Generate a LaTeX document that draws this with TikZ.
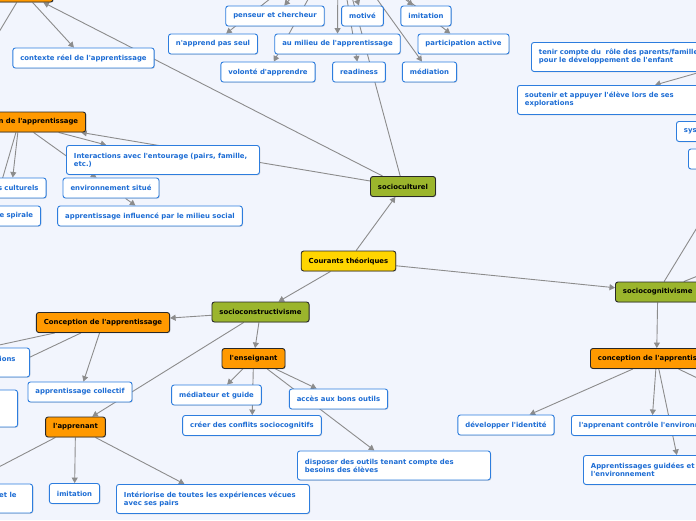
\documentclass[tikz,border=0pt]{standalone}
\usepackage{fontspec}
\newfontfamily\mmfont{DejaVu Sans}
\usetikzlibrary{arrows.meta,shadows,calc}
\pgfdeclarelayer{bgzero}
\pgfdeclarelayer{edges}
\pgfsetlayers{bgzero,edges,main}
\definecolor{pagebg}{RGB}{242,245,253}
\definecolor{bluebd}{RGB}{45,125,222}
\definecolor{bluetx}{RGB}{28,108,212}
\definecolor{darkbd}{RGB}{40,40,40}
\definecolor{orangef}{RGB}{255,153,0}
\definecolor{greenf}{RGB}{155,181,44}
\definecolor{yellowf}{RGB}{255,213,0}
\definecolor{edgec}{RGB}{140,140,140}
\tikzset{
  box/.style={rounded corners=2.5pt, line width=0.9pt, minimum height=20pt,
    inner xsep=7.5pt, inner ysep=2pt,
    font=\mmfont\bfseries\fontsize{6.9}{8}\selectfont,
    drop shadow={shadow xshift=0.8pt, shadow yshift=-0.8pt, opacity=0.25}},
  bbox/.style={box, draw=bluebd, fill=white, text=bluetx},
  obox/.style={box, draw=darkbd, fill=orangef, text=black},
  gbox/.style={box, draw=darkbd, fill=greenf, text=black},
  ybox/.style={box, draw=darkbd, fill=yellowf, text=black},
  twoline/.style={text width=#1, align=left, minimum height=29pt},
  conn/.style={draw=edgec, line width=0.9pt, -{Triangle[length=5.5pt,width=6pt]}},
  connplain/.style={draw=edgec, line width=0.9pt},
}
\begin{document}
\begin{tikzpicture}[x=1pt,y=-1pt]
\useasboundingbox (0,0) rectangle (696,520);
\clip (0,0) rectangle (696,520);
\begin{pgfonlayer}{bgzero}
\fill[pagebg] (0,0) rectangle (696,520);
\end{pgfonlayer}

% ---- top cluster
\coordinate (P) at (338,-55);
\node[bbox] (pens) at (275,16) {penseur et chercheur};
\node[bbox] (motiv) at (362.5,16) {motivé};
\node[bbox] (imitT) at (426,16) {imitation};
\node[bbox] (napp) at (213,44) {n'apprend pas seul};
\node[bbox] (milieu) at (337.5,44) {au milieu de l'apprentissage};
\node[bbox] (partic) at (463.5,44) {participation active};
\node[bbox] (volon) at (268,72) {volonté d'apprendre};
\node[bbox] (readi) at (359,72) {readiness};
\node[bbox] (media) at (429.5,72) {médiation};

% ---- top left
\node[obox, minimum width=60pt] (A) at (23,-8) {};
\coordinate (offL1) at (-10,47);
\node[bbox] (ctx) at (83.5,58) {contexte réel de l'apprentissage};
\node[obox] (C1) at (19,122) {Conception de l'apprentissage};
\node[bbox, twoline=178pt, anchor=north west] (inter) at (66,145) {Interactions avec l'entourage (pairs, famille,\\etc.)};
\node[bbox, text width=54pt, align=right, anchor=east] (scult) at (46.5,188) {s culturels};
\node[bbox, text width=83pt, align=right, anchor=east] (espir) at (41,216) {e spirale};
\node[bbox] (envs) at (111,188) {environnement situé};
\node[bbox] (appinf) at (150,216) {apprentissage influencé par le milieu social};

% ---- centre
\node[gbox] (soccult) at (403,186.5) {socioculturel};
\node[ybox] (cour) at (348.5,261) {Courants théoriques};
\node[gbox] (sconst) at (260.5,312) {socioconstructivisme};

% ---- top right
\node[bbox, twoline=178pt, anchor=north west] (tenir) at (531,42) {tenir compte du~ rôle des parents/famille\\pour le développement de l'enfant};
\node[bbox, twoline=178pt, anchor=north west] (sout) at (517,85) {soutenir et appuyer l'élève lors de ses\\explorations};
\node[bbox, text width=50pt, align=left, anchor=west] (sys) at (676,131.5) {sys};
\node[bbox, minimum width=50pt, anchor=west] (bxr) at (688,159) {};
\coordinate (R1) at (743,60);
\coordinate (soutT) at ($(sout.north west)+(138,0)$);

% ---- bottom left
\node[obox] (C2) at (103,322.5) {Conception de l'apprentissage};
\node[bbox, text width=90pt, align=right, anchor=east, minimum height=29pt] (ions) at (30,362.5) {ions\rule{6.5pt}{0pt}\\\mbox{}};
\node[bbox, minimum width=90pt, minimum height=37pt, anchor=east] (bx26) at (18,408.5) {};
\node[bbox] (collec) at (80,392) {apprentissage collectif};
\node[obox] (appr) at (75.5,427) {l'apprenant};
\node[bbox, text width=90pt, align=right, anchor=east, minimum height=29pt] (etle) at (33,498.5) {et le\rule{8.5pt}{0pt}\\\mbox{}};
\node[bbox] (imitB) at (74.5,493.5) {imitation};
\node[bbox, twoline=178pt, anchor=north west] (interi) at (116,484) {Intériorise de toutes les expériences vécues\\avec ses pairs};
\coordinate (offC2a) at (-40,353.5);
\coordinate (offC2b) at (-50,395);
\coordinate (offAp) at (-30,482);

% ---- bottom middle
\node[obox] (ens) at (253.5,358.5) {l'enseignant};
\node[bbox] (mediat) at (216.5,395) {médiateur et guide};
\node[bbox] (acces) at (338.5,399) {accès aux bons outils};
\node[bbox] (creer) at (252,425.5) {créer des conflits sociocognitifs};
\node[bbox, twoline=178pt, anchor=north west] (dispo) at (297,450.5) {disposer des outils tenant compte des\\besoins des élèves};

% ---- bottom right
\node[gbox, anchor=west] (scog) at (615,292) {sociocognitivisme};
\node[obox, anchor=west] (C3) at (590,358.5) {conception de l'apprentissage};
\node[bbox] (devid) at (506,425) {développer l'identité};
\node[bbox, anchor=west] (appctrl) at (571,425.5) {l'apprenant contrôle l'environnement};
\node[bbox, twoline=178pt, anchor=north west] (appgui) at (583,455) {Apprentissages guidées et\\l'environnement};
\coordinate (R2) at (726,180);
\coordinate (R3) at (760,251);
\coordinate (R4) at (760,408);

\begin{pgfonlayer}{edges}
% root
\draw[conn] (cour) -- (soccult);
\draw[conn] (cour) -- (sconst);
\draw[conn] (cour) -- (scog);
% socioculturel
\draw[connplain] (soccult) -- (P);
\draw[conn] (soccult) -- (A);
\draw[conn] (soccult) -- (C1);
\foreach \t in {pens,motiv,imitT,napp,milieu,partic,volon,readi,media}
  \draw[conn] (P) -- (\t);
\draw[conn] (A) -- (ctx);
\draw[connplain] (A) -- (offL1);
\draw[conn] (C1) -- (inter);
\draw[conn] (C1) -- (scult);
\draw[conn] (C1) -- (espir);
\draw[conn] (C1) -- (envs);
\draw[conn] (envs) -- (appinf);
% top right
\draw[conn] (R1) -- (soutT);
% socioconstructivisme
\draw[conn] (sconst) -- (C2);
\draw[conn] (sconst) -- (ens);
\draw[conn] (sconst) -- (appr);
\draw[conn] (C2) -- (collec);
\draw[connplain] (C2) -- (offC2a);
\draw[connplain] (C2) -- (offC2b);
\draw[conn] (appr) -- (imitB);
\draw[conn] (appr) -- (interi);
\draw[connplain] (appr) -- (offAp);
\draw[conn] (ens) -- (mediat);
\draw[conn] (ens) -- (creer);
\draw[conn] (ens) -- (acces);
\draw[conn] (ens) -- (dispo);
% sociocognitivisme
\draw[conn] (scog) -- (C3);
\draw[connplain] (scog) -- (R2);
\draw[connplain] (scog) -- (R3);
\draw[conn] (C3) -- (devid);
\draw[conn] (C3) -- (appctrl);
\draw[conn] (C3) -- (appgui);
\draw[connplain] (C3) -- (R4);
\end{pgfonlayer}
\end{tikzpicture}
\end{document}
